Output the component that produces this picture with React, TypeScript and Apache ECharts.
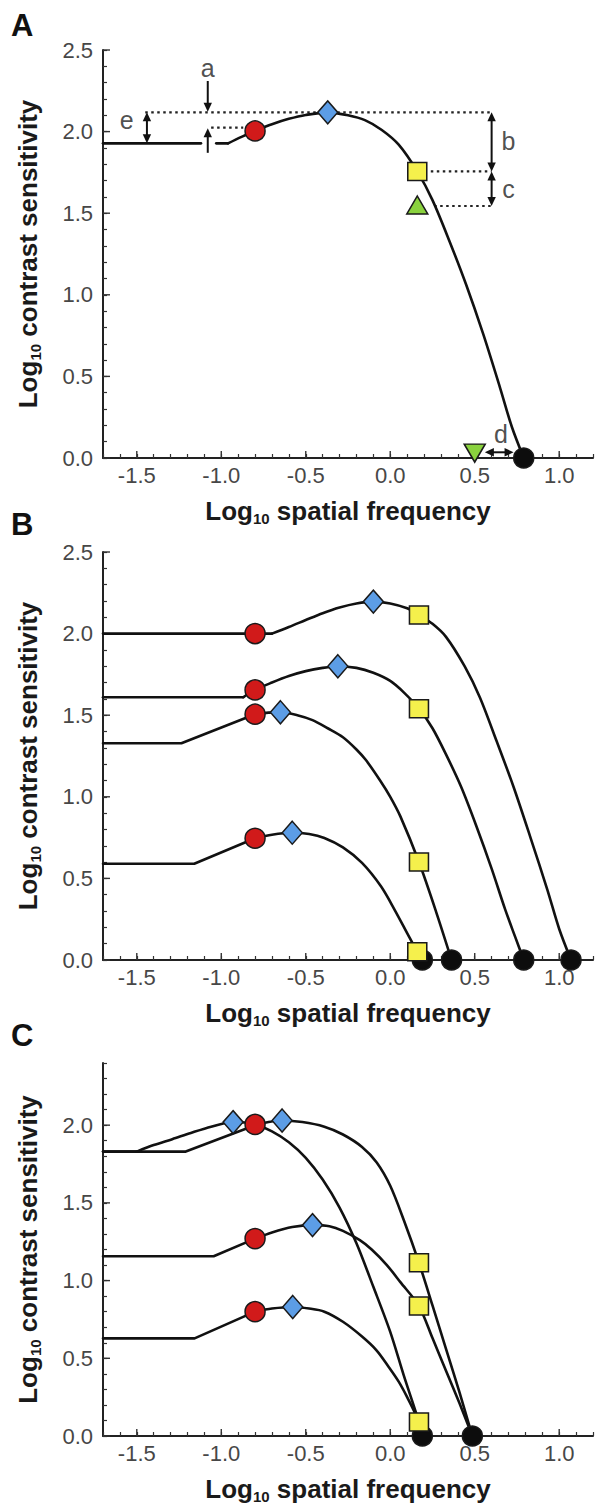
import React, { useEffect, useRef } from "react";
import * as echarts from "echarts";

const FONT = '"Liberation Sans", Arial, Helvetica, sans-serif';
const X_MIN = -1.7;
const X_MAX = 1.2;
const yMaxByPanel = [2.5, 2.5, 2.4];
const xMajorTicks = [-1.5, -1.0, -0.5, 0.0, 0.5, 1.0];
const yMajorTicksAB = [0.0, 0.5, 1.0, 1.5, 2.0, 2.5];
const yMajorTicksC = [0.0, 0.5, 1.0, 1.5, 2.0];
const panelLetters = ["A", "B", "C"];

// ---------- Panel A ----------
const aFlatLeft = [[-1.7, 1.928], [-1.12, 1.928]];
const aFlatRight = [[-1.03, 1.928], [-0.96, 1.928]];
const aCurve = [
  [-0.96, 1.928], [-0.88, 1.968], [-0.80, 2.004], [-0.70, 2.045], [-0.60, 2.078],
  [-0.50, 2.102], [-0.37, 2.118], [-0.25, 2.10], [-0.15, 2.07], [-0.05, 2.01],
  [0.05, 1.92], [0.16, 1.756], [0.25, 1.58], [0.35, 1.33], [0.45, 1.06],
  [0.55, 0.76], [0.65, 0.43], [0.72, 0.19], [0.79, 0.0],
];
const aCircles = [[-0.80, 2.004]];
const aDiamonds = [[-0.37, 2.118]];
const aSquares = [[0.16, 1.756]];
const aTriUp = [[0.16, 1.55]];
const aTriDown = [[0.50, 0.03]];
const aDots = [[0.79, 0.0]];
// dotted guide lines [x1, y1, x2, y2]
const aDotted = [
  [-1.45, 2.118, 0.60, 2.118],
  [-1.06, 2.024, -0.87, 2.024],
  [0.24, 1.756, 0.60, 1.756],
  [0.26, 1.544, 0.60, 1.544],
];
// arrows [x1, y1, x2, y2, doubleHeaded]
const aArrows = [
  [-1.08, 2.31, -1.08, 2.122, 0],
  [-1.08, 1.87, -1.08, 2.02, 0],
  [-1.44, 1.928, -1.44, 2.118, 1],
  [0.60, 2.118, 0.60, 1.756, 1],
  [0.60, 1.756, 0.60, 1.544, 1],
  [0.56, 0.035, 0.73, 0.035, 1],
];
const aLetters = ["a", "e", "b", "c", "d"];
const aLetterPos = [[-1.08, 2.39], [-1.56, 2.07], [0.70, 1.94], [0.70, 1.65], [0.655, 0.15]];

// ---------- Panel B ----------
const b1Flat = [[-1.7, 2.0], [-0.70, 2.0]];
const b1Curve = [
  [-0.70, 2.0], [-0.60, 2.04], [-0.50, 2.083], [-0.40, 2.125], [-0.30, 2.16],
  [-0.20, 2.185], [-0.10, 2.196], [0.0, 2.185], [0.10, 2.155], [0.17, 2.114],
  [0.25, 2.06], [0.33, 1.98], [0.44, 1.80], [0.53, 1.61], [0.63, 1.34],
  [0.73, 1.06], [0.83, 0.75], [0.93, 0.43], [1.00, 0.19], [1.07, 0.0],
];
const b2Flat = [[-1.7, 1.61], [-0.87, 1.61]];
const b2Curve = [
  [-0.87, 1.61], [-0.80, 1.655], [-0.70, 1.70], [-0.60, 1.74], [-0.50, 1.77],
  [-0.40, 1.79], [-0.31, 1.80], [-0.20, 1.79], [-0.10, 1.76], [0.0, 1.71],
  [0.08, 1.64], [0.17, 1.54], [0.25, 1.42], [0.33, 1.26], [0.42, 1.06],
  [0.51, 0.82], [0.60, 0.56], [0.68, 0.31], [0.74, 0.14], [0.79, 0.0],
];
const b3Flat = [[-1.7, 1.328], [-1.236, 1.328], [-0.80, 1.506]];
const b3Curve = [
  [-0.80, 1.506], [-0.72, 1.516], [-0.65, 1.518], [-0.55, 1.50], [-0.46, 1.47],
  [-0.37, 1.42], [-0.28, 1.365], [-0.20, 1.29], [-0.144, 1.225], [-0.06, 1.10],
  [0.0, 1.00], [0.06, 0.88], [0.17, 0.60], [0.27, 0.30], [0.363, 0.0],
];
const b4Flat = [[-1.7, 0.59], [-1.16, 0.59], [-0.80, 0.746]];
const b4Curve = [
  [-0.80, 0.746], [-0.70, 0.768], [-0.58, 0.78], [-0.48, 0.772], [-0.39, 0.748],
  [-0.28, 0.69], [-0.167, 0.595], [-0.054, 0.45], [0.03, 0.30], [0.10, 0.165],
  [0.16, 0.05], [0.19, 0.0],
];
const bCircles = [[-0.80, 2.0], [-0.80, 1.655], [-0.80, 1.506], [-0.80, 0.746]];
const bDiamonds = [[-0.10, 2.196], [-0.31, 1.80], [-0.65, 1.518], [-0.58, 0.78]];
const bSquares = [[0.17, 2.114], [0.17, 1.54], [0.17, 0.60], [0.16, 0.05]];
const bDots = [[1.07, 0.0], [0.79, 0.0], [0.363, 0.0], [0.19, 0.0]];

// ---------- Panel C ----------
const c1Flat = [[-1.7, 1.83], [-1.50, 1.83]];
const c1Curve = [
  [-1.50, 1.83], [-1.40, 1.872], [-1.29, 1.91], [-1.18, 1.95], [-1.06, 1.99],
  [-0.93, 2.02], [-0.80, 2.005], [-0.70, 1.96], [-0.60, 1.89], [-0.50, 1.79],
  [-0.40, 1.65], [-0.30, 1.47], [-0.20, 1.24], [-0.10, 0.96], [0.0, 0.67],
  [0.08, 0.39], [0.17, 0.09], [0.19, 0.0],
];
const c2Flat = [[-1.7, 1.83], [-1.21, 1.83], [-0.80, 2.0]];
const c2Curve = [
  [-0.80, 2.0], [-0.72, 2.02], [-0.64, 2.03], [-0.52, 2.02], [-0.39, 1.99],
  [-0.28, 1.94], [-0.167, 1.86], [-0.08, 1.76], [0.0, 1.61], [0.08, 1.39],
  [0.17, 1.115], [0.25, 0.84], [0.33, 0.56], [0.41, 0.28], [0.486, 0.0],
];
const c3Flat = [[-1.7, 1.157], [-1.045, 1.157], [-0.80, 1.27]];
const c3Curve = [
  [-0.80, 1.27], [-0.70, 1.31], [-0.58, 1.345], [-0.46, 1.357], [-0.36, 1.35],
  [-0.28, 1.32], [-0.18, 1.26], [-0.11, 1.20], [-0.02, 1.10], [0.06, 0.99],
  [0.17, 0.836], [0.25, 0.63], [0.33, 0.42], [0.41, 0.21], [0.486, 0.0],
];
const c4Flat = [[-1.7, 0.628], [-1.158, 0.628], [-0.80, 0.80]];
const c4Curve = [
  [-0.80, 0.80], [-0.70, 0.82], [-0.577, 0.83], [-0.48, 0.82], [-0.39, 0.80],
  [-0.28, 0.735], [-0.167, 0.64], [-0.08, 0.55], [-0.01, 0.446], [0.05, 0.35],
  [0.10, 0.25], [0.17, 0.09], [0.19, 0.0],
];
const cCircles = [[-0.80, 2.005], [-0.80, 1.27], [-0.80, 0.80]];
const cDiamonds = [[-0.93, 2.02], [-0.64, 2.03], [-0.46, 1.357], [-0.577, 0.83]];
const cSquares = [[0.17, 1.115], [0.17, 0.836], [0.17, 0.09]];
const cDots = [[0.19, 0.0], [0.486, 0.0]];

// ---------- styling ----------
const RED = "#d11a1a";
const BLUE = "#5c9de6";
const YELLOW = "#f5f04c";
const GREEN = "#8ad23e";
const BLACK = "#0d0d0d";
const LINE = "#111111";

const grids = [
  { left: 103, top: 50, width: 490, height: 408 },
  { left: 103, top: 552, width: 490, height: 408 },
  { left: 103, top: 1063, width: 490, height: 373 },
];
const letterTops = [10, 509, 1020];

const fmtMajor = (v: number) => {
  const r = Math.round(v * 10) / 10;
  if (Math.abs(r * 2 - Math.round(r * 2)) > 1e-6) return "";
  return (r === 0 ? 0 : r).toFixed(1);
};

const titleRich = {
  b: { fontSize: 26, fontWeight: "bold", color: "#1a1a1a", fontFamily: FONT },
  s: { fontSize: 15, fontWeight: "bold", color: "#1a1a1a", fontFamily: FONT, padding: [15, 0, 0, 0] },
};

function lineSeries(i: number, data: number[][], smooth: boolean) {
  return {
    type: "line",
    xAxisIndex: i,
    yAxisIndex: i,
    data,
    smooth: smooth ? 0.3 : false,
    showSymbol: false,
    symbol: "none",
    clip: false,
    silent: true,
    z: 2,
    lineStyle: { color: LINE, width: 2.6, join: "round", cap: "round" },
  };
}

function markerSeries(i: number, data: number[][], symbol: string, size: any, color: string, z: number, rotate = 0) {
  return {
    type: "scatter",
    xAxisIndex: i,
    yAxisIndex: i,
    data,
    symbol,
    symbolSize: size,
    symbolRotate: rotate,
    clip: false,
    silent: true,
    z,
    itemStyle: { color, borderColor: "#1a1a1a", borderWidth: 1.5, opacity: 1 },
  };
}

function majorTickSeries(i: number) {
  const yt = i === 2 ? yMajorTicksC : yMajorTicksAB;
  const data = [...xMajorTicks.map((v) => [v, 0, 0]), ...yt.map((v) => [X_MIN, v, 1])];
  return {
    type: "custom",
    xAxisIndex: i,
    yAxisIndex: i,
    silent: true,
    clip: false,
    z: 1,
    data,
    renderItem: (_p: any, api: any) => {
      const p = api.coord([api.value(0), api.value(1)]);
      const horiz = api.value(2) === 0;
      return {
        type: "line",
        shape: horiz
          ? { x1: p[0], y1: p[1], x2: p[0], y2: p[1] - 7 }
          : { x1: p[0], y1: p[1], x2: p[0] + 7, y2: p[1] },
        style: { stroke: "#333", lineWidth: 1.4 },
      };
    },
  };
}

function dottedSeries(i: number, data: number[][]) {
  return {
    type: "custom",
    xAxisIndex: i,
    yAxisIndex: i,
    silent: true,
    clip: false,
    z: 1,
    data,
    renderItem: (_p: any, api: any) => {
      const p1 = api.coord([api.value(0), api.value(1)]);
      const p2 = api.coord([api.value(2), api.value(3)]);
      return {
        type: "line",
        shape: { x1: p1[0], y1: p1[1], x2: p2[0], y2: p2[1] },
        style: { stroke: "#222", lineWidth: 2.2, lineDash: [2.5, 3.5] },
      };
    },
  };
}

function arrowSeries(i: number, data: number[][]) {
  return {
    type: "custom",
    xAxisIndex: i,
    yAxisIndex: i,
    silent: true,
    clip: false,
    z: 3,
    data,
    renderItem: (_p: any, api: any) => {
      const p1 = api.coord([api.value(0), api.value(1)]);
      const p2 = api.coord([api.value(2), api.value(3)]);
      const both = api.value(4) === 1;
      const L = 9;
      const W = 4.2;
      const dx = p2[0] - p1[0];
      const dy = p2[1] - p1[1];
      const len = Math.hypot(dx, dy) || 1;
      const ux = dx / len;
      const uy = dy / len;
      const head = (tip: number[], dir: number) => {
        const bx = tip[0] - dir * ux * L;
        const by = tip[1] - dir * uy * L;
        return {
          type: "polygon",
          shape: { points: [[tip[0], tip[1]], [bx - uy * W, by + ux * W], [bx + uy * W, by - ux * W]] },
          style: { fill: "#111" },
        };
      };
      const s = both ? [p1[0] + ux * (L - 1), p1[1] + uy * (L - 1)] : p1;
      const e = [p2[0] - ux * (L - 1), p2[1] - uy * (L - 1)];
      const children: any[] = [
        { type: "line", shape: { x1: s[0], y1: s[1], x2: e[0], y2: e[1] }, style: { stroke: "#111", lineWidth: 2 } },
        head(p2, 1),
      ];
      if (both) children.push(head(p1, -1));
      return { type: "group", children };
    },
  };
}

function buildOption() {
  const xAxis = grids.map((_, i) => ({
    gridIndex: i,
    type: "value",
    min: X_MIN,
    max: X_MAX,
    interval: 0.1,
    axisLine: { show: true, onZero: false, lineStyle: { color: "#222", width: 2 } },
    axisTick: { show: true, inside: true, length: 4, lineStyle: { color: "#333", width: 1.2 } },
    splitLine: { show: false },
    axisLabel: { margin: 6, fontSize: 22, color: "#474747", fontFamily: FONT, formatter: fmtMajor },
    name: "{b|Log}{s|10}{b| spatial frequency}",
    nameLocation: "middle",
    nameGap: 38,
    nameTextStyle: { rich: titleRich },
  }));
  const yAxis = grids.map((_, i) => ({
    gridIndex: i,
    type: "value",
    min: 0,
    max: yMaxByPanel[i],
    interval: 0.1,
    axisLine: { show: true, onZero: false, lineStyle: { color: "#222", width: 2 } },
    axisTick: { show: true, inside: true, length: 4, lineStyle: { color: "#333", width: 1.2 } },
    splitLine: { show: false },
    axisLabel: { margin: 10, fontSize: 22, color: "#474747", fontFamily: FONT, formatter: fmtMajor },
    name: "{b|Log}{s|10}{b| contrast sensitivity}",
    nameLocation: "middle",
    nameGap: 60,
    nameRotate: 90,
    nameTextStyle: { rich: titleRich },
  }));

  const series: any[] = [];
  [0, 1, 2].forEach((i) => series.push(majorTickSeries(i)));

  // Panel A
  series.push(dottedSeries(0, aDotted));
  series.push(lineSeries(0, aFlatLeft, false));
  series.push(lineSeries(0, aFlatRight, false));
  series.push(lineSeries(0, aCurve, true));
  series.push(arrowSeries(0, aArrows));
  series.push(markerSeries(0, aDots, "circle", 20, BLACK, 4));
  series.push(markerSeries(0, aCircles, "circle", 20, RED, 5));
  series.push(markerSeries(0, aDiamonds, "diamond", [20, 23], BLUE, 5));
  series.push(markerSeries(0, aTriUp, "triangle", [21, 18], GREEN, 5));
  series.push(markerSeries(0, aTriDown, "triangle", [21, 18], GREEN, 5, 180));
  series.push(markerSeries(0, aSquares, "rect", [19, 18], YELLOW, 6));
  series.push({
    type: "scatter",
    xAxisIndex: 0,
    yAxisIndex: 0,
    data: aLetters.map((t, k) => ({ name: t, value: aLetterPos[k] })),
    symbolSize: 1,
    clip: false,
    silent: true,
    z: 6,
    itemStyle: { color: "rgba(0,0,0,0)" },
    label: { show: true, position: "inside", formatter: "{b}", fontSize: 25, color: "#222", fontFamily: FONT },
  });

  // Panel B
  [b1Flat, b2Flat, b3Flat, b4Flat].forEach((d) => series.push(lineSeries(1, d, false)));
  [b1Curve, b2Curve, b3Curve, b4Curve].forEach((d) => series.push(lineSeries(1, d, true)));
  series.push(markerSeries(1, bDots, "circle", 20, BLACK, 4));
  series.push(markerSeries(1, bCircles, "circle", 20, RED, 5));
  series.push(markerSeries(1, bDiamonds, "diamond", [20, 23], BLUE, 5));
  series.push(markerSeries(1, bSquares, "rect", [19, 18], YELLOW, 6));

  // Panel C
  [c1Flat, c2Flat, c3Flat, c4Flat].forEach((d) => series.push(lineSeries(2, d, false)));
  [c1Curve, c2Curve, c3Curve, c4Curve].forEach((d) => series.push(lineSeries(2, d, true)));
  series.push(markerSeries(2, cDots, "circle", 20, BLACK, 4));
  series.push(markerSeries(2, cCircles, "circle", 20, RED, 5));
  series.push(markerSeries(2, cDiamonds, "diamond", [20, 23], BLUE, 5));
  series.push(markerSeries(2, cSquares, "rect", [19, 18], YELLOW, 6));

  return {
    animation: false,
    backgroundColor: "#ffffff",
    textStyle: { fontFamily: FONT },
    grid: grids,
    xAxis,
    yAxis,
    series,
    graphic: panelLetters.map((t, i) => ({
      type: "text",
      left: 11,
      top: letterTops[i],
      silent: true,
      style: { text: t, fontSize: 31, fontWeight: "bold", fontFamily: FONT, fill: "#111" },
    })),
  };
}

export default function App() {
  const ref = useRef<HTMLDivElement>(null);
  useEffect(() => {
    if (!ref.current) return;
    const chart = echarts.init(ref.current, undefined, { renderer: "svg" });
    chart.setOption(buildOption() as any);
    return () => chart.dispose();
  }, []);
  return (
    <div
      ref={ref}
      style={{ position: "absolute", left: 0, top: 0, width: 597, height: 1505, background: "#fff" }}
    />
  );
}
